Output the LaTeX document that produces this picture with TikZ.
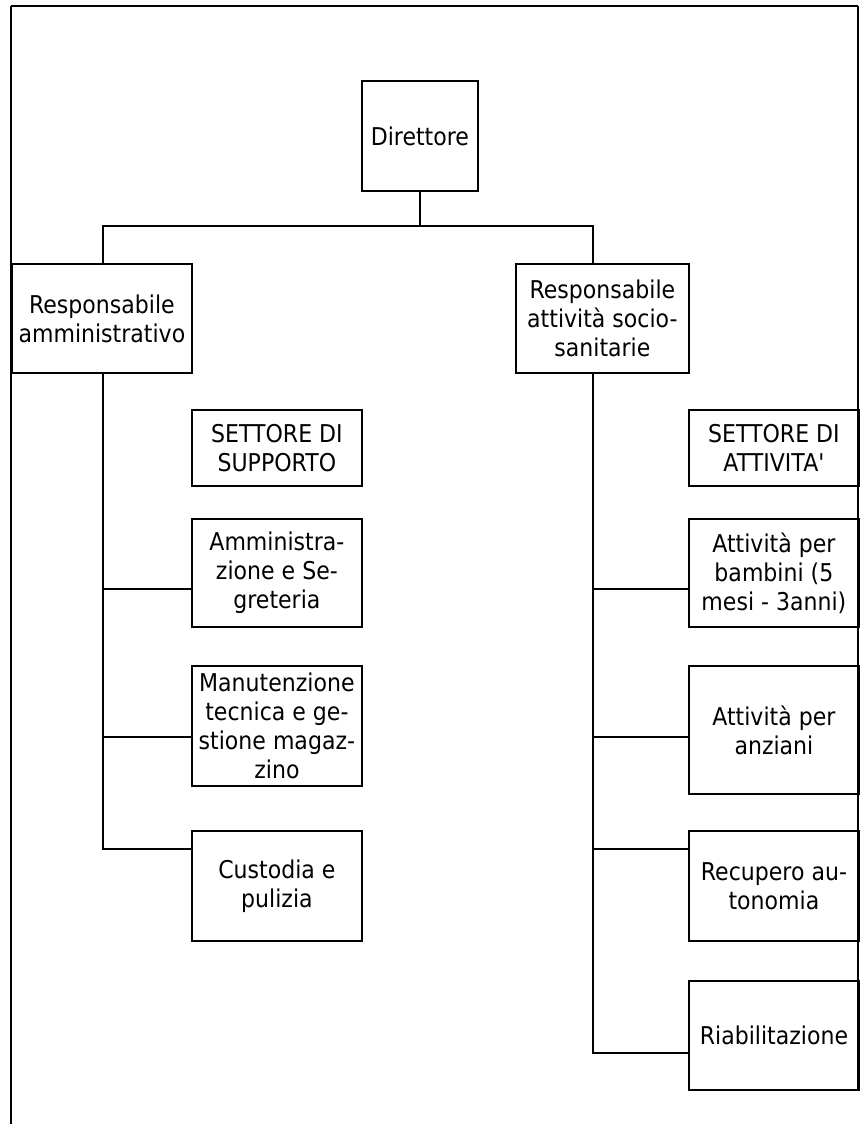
\documentclass[tikz,border=0pt]{standalone}
\usepackage{fontspec}
\setmainfont{DejaVu Sans}[FakeStretch=0.9,Ligatures=TeXOff]
\begin{document}
\begin{tikzpicture}[x=1pt,y=-1pt,
  box/.style={draw,line width=1.8pt,rectangle,anchor=north west,inner sep=0pt,
    align=center,font=\fontsize{24.5}{29}\selectfont},
  conn/.style={line width=1.8pt},
  frame/.style={line width=2.2pt}]
\useasboundingbox (0,0) rectangle (861,1124);
% frame
\coordinate (ftl) at (11,6);
\coordinate (ftr) at (858,6);
\coordinate (fbl) at (11,1124);
\coordinate (fbr) at (858,1089);
\draw[frame] (fbl) -- (ftl);
\draw[line width=1.2pt] (ftl) -- (ftr);
\draw[frame] (ftr) -- (fbr);
% boxes
\node[box,minimum width=116pt,minimum height=110pt] (dir) at (361,80) {Direttore};
\node[box,minimum width=180pt,minimum height=109pt] (ra) at (11,263) {Responsabile\\amministrativo};
\node[box,minimum width=173pt,minimum height=109pt] (rs) at (515,263) {Responsabile\\attività socio-\\sanitarie};
\node[box,minimum width=170pt,minimum height=76pt] (ss) at (191,409) {SETTORE DI\\SUPPORTO};
\node[box,minimum width=170pt,minimum height=108pt] (am) at (191,518) {Amministra-\\zione e Se-\\greteria};
\node[box,minimum width=170pt,minimum height=120pt] (mt) at (191,665) {Manutenzione\\tecnica e ge-\\stione magaz-\\zino};
\node[box,minimum width=170pt,minimum height=110pt] (cu) at (191,830) {Custodia e\\pulizia};
\node[box,minimum width=170pt,minimum height=76pt] (sa) at (688,409) {SETTORE DI\\ATTIVITA'};
\node[box,minimum width=170pt,minimum height=108pt] (ab) at (688,518) {Attività per\\bambini (5\\mesi - 3anni)};
\node[box,minimum width=170pt,minimum height=128pt] (an) at (688,665) {Attività per\\anziani};
\node[box,minimum width=170pt,minimum height=110pt] (rc) at (688,830) {Recupero au-\\tonomia};
\node[box,minimum width=170pt,minimum height=109pt] (rb) at (688,980) {Riabilitazione};
% connectors
\coordinate (bus) at (419,226);
\coordinate (busl) at (103,226);
\coordinate (busr) at (593,226);
\draw[conn] (dir.south) -- (dir.south |- bus);
\draw[conn] (busl |- ra.north) -- (busl) -- (busr) -- (busr |- rs.north);
\draw[conn] (busl |- ra.south) -- (busl |- 0,849) -- (cu.west |- 0,849);
\draw[conn] (busl |- 0,589) -- (am.west |- 0,589);
\draw[conn] (busl |- 0,737) -- (mt.west |- 0,737);
\draw[conn] (busr |- rs.south) -- (busr |- 0,1053) -- (rb.west |- 0,1053);
\draw[conn] (busr |- 0,589) -- (ab.west |- 0,589);
\draw[conn] (busr |- 0,737) -- (an.west |- 0,737);
\draw[conn] (busr |- 0,849) -- (rc.west |- 0,849);
\end{tikzpicture}
\end{document}
